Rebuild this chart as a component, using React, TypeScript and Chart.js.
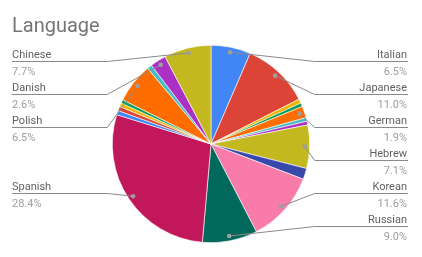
import React, { useEffect, useRef } from "react";
import { Chart, registerables } from "chart.js";

Chart.register(...registerables);

const chartTitle = "Language";

const categories = [
  "Italian", "Japanese", "Other 1", "Other 2", "German", "Other 3", "Other 4",
  "Hebrew", "Other 5", "Korean", "Russian", "Spanish", "Other 6", "Other 7",
  "Other 8", "Other 9", "Polish", "Other 10", "Danish", "Chinese",
];

const shares = [
  6.5, 11.0, 0.7, 0.6, 1.9, 0.6, 0.6, 7.1, 1.8, 11.6, 9.0, 28.4, 0.7, 0.7,
  0.6, 0.6, 6.5, 0.8, 2.6, 7.7,
];

const palette = [
  "#4285F4", "#DB4437", "#F4B400", "#0F9D58", "#FF6D01", "#46BDC6",
  "#AB30C4", "#C3B820", "#3949AB", "#F97BAA", "#00695C", "#C2185B",
];

const labelThreshold = 1.85;

const FONT = "Roboto, 'Noto Sans', Arial, sans-serif";

const leaderPlugin = {
  id: "leaderLabels",
  afterDraw(chart: any) {
    const ctx = chart.ctx as CanvasRenderingContext2D;
    const meta = chart.getDatasetMeta(0);
    const values = chart.data.datasets[0].data as number[];
    const total = values.reduce((a, b) => a + b, 0);

    const slotTop = 61;
    const slotStep = 33;
    const nSlots = 6;
    const leftTextX = 12;
    const rightTextX = 407;

    type Item = { i: number; dx: number; dy: number; cx: number; r: number; left: boolean; slot?: number };
    const items: Item[] = [];
    meta.data.forEach((arc: any, i: number) => {
      const pct = (values[i] / total) * 100;
      if (pct < labelThreshold) return;
      const mid = (arc.startAngle + arc.endAngle) / 2;
      const r = arc.outerRadius;
      const dx = arc.x + Math.cos(mid) * r * 0.95;
      const dy = arc.y + Math.sin(mid) * r * 0.95;
      items.push({ i, dx, dy, cx: arc.x, r, left: Math.cos(mid) < 0 });
    });

    const assign = (list: Item[]) => {
      list.sort((a, b) => a.dy - b.dy);
      let prev = -1;
      list.forEach((it, k) => {
        const remaining = list.length - k - 1;
        let best = -1;
        let bestD = Infinity;
        for (let s = prev + 1; s <= nSlots - 1 - remaining; s++) {
          const d = Math.abs(slotTop + s * slotStep - it.dy);
          if (d < bestD) {
            bestD = d;
            best = s;
          }
        }
        it.slot = best;
        prev = best;
      });
    };
    assign(items.filter((it) => it.left));
    assign(items.filter((it) => !it.left));

    ctx.save();
    items.forEach((it) => {
      const y = slotTop + (it.slot as number) * slotStep;
      const elbowX = it.left ? it.cx - it.r - 5 : it.cx + it.r + 5;
      const endX = it.left ? leftTextX : rightTextX + 1;
      ctx.strokeStyle = "#8a8a8a";
      ctx.lineWidth = 1;
      ctx.beginPath();
      ctx.moveTo(it.dx, it.dy);
      ctx.lineTo(elbowX, y + 0.5);
      ctx.lineTo(endX, y + 0.5);
      ctx.stroke();
      ctx.fillStyle = "#9e9e9e";
      ctx.beginPath();
      ctx.arc(it.dx, it.dy, 2.3, 0, Math.PI * 2);
      ctx.fill();

      const pct = ((values[it.i] / total) * 100).toFixed(1) + "%";
      ctx.font = `11px ${FONT}`;
      ctx.textBaseline = "alphabetic";
      ctx.textAlign = it.left ? "left" : "right";
      const tx = it.left ? leftTextX : rightTextX;
      ctx.fillStyle = "#616161";
      ctx.fillText(String(chart.data.labels[it.i]), tx, y - 3);
      ctx.fillStyle = "#9e9e9e";
      ctx.fillText(pct, tx, y + 14);
    });

    ctx.font = `20px ${FONT}`;
    ctx.fillStyle = "#757575";
    ctx.textAlign = "left";
    ctx.textBaseline = "alphabetic";
    ctx.fillText(chartTitle, 12, 32);
    ctx.restore();
  },
};

export default function App() {
  const canvasRef = useRef<HTMLCanvasElement | null>(null);

  useEffect(() => {
    if (!canvasRef.current) return;
    const chart = new Chart(canvasRef.current, {
      type: "pie",
      data: {
        labels: categories,
        datasets: [
          {
            data: shares,
            backgroundColor: shares.map((_, i) => palette[i % palette.length]),
            borderColor: "#ffffff",
            borderWidth: 0.6,
          },
        ],
      },
      options: {
        animation: false,
        responsive: false,
        maintainAspectRatio: false,
        layout: { padding: { top: 45, bottom: 14, left: 0, right: 0 } },
        plugins: {
          legend: { display: false },
          tooltip: { enabled: false },
          title: { display: false },
        },
      },
      plugins: [leaderPlugin],
    });
    return () => chart.destroy();
  }, []);

  return (
    <div style={{ position: "fixed", left: 0, top: 0, width: 422, height: 257, background: "#fff" }}>
      <canvas ref={canvasRef} width={422} height={257} style={{ width: 422, height: 257, display: "block" }} />
    </div>
  );
}
